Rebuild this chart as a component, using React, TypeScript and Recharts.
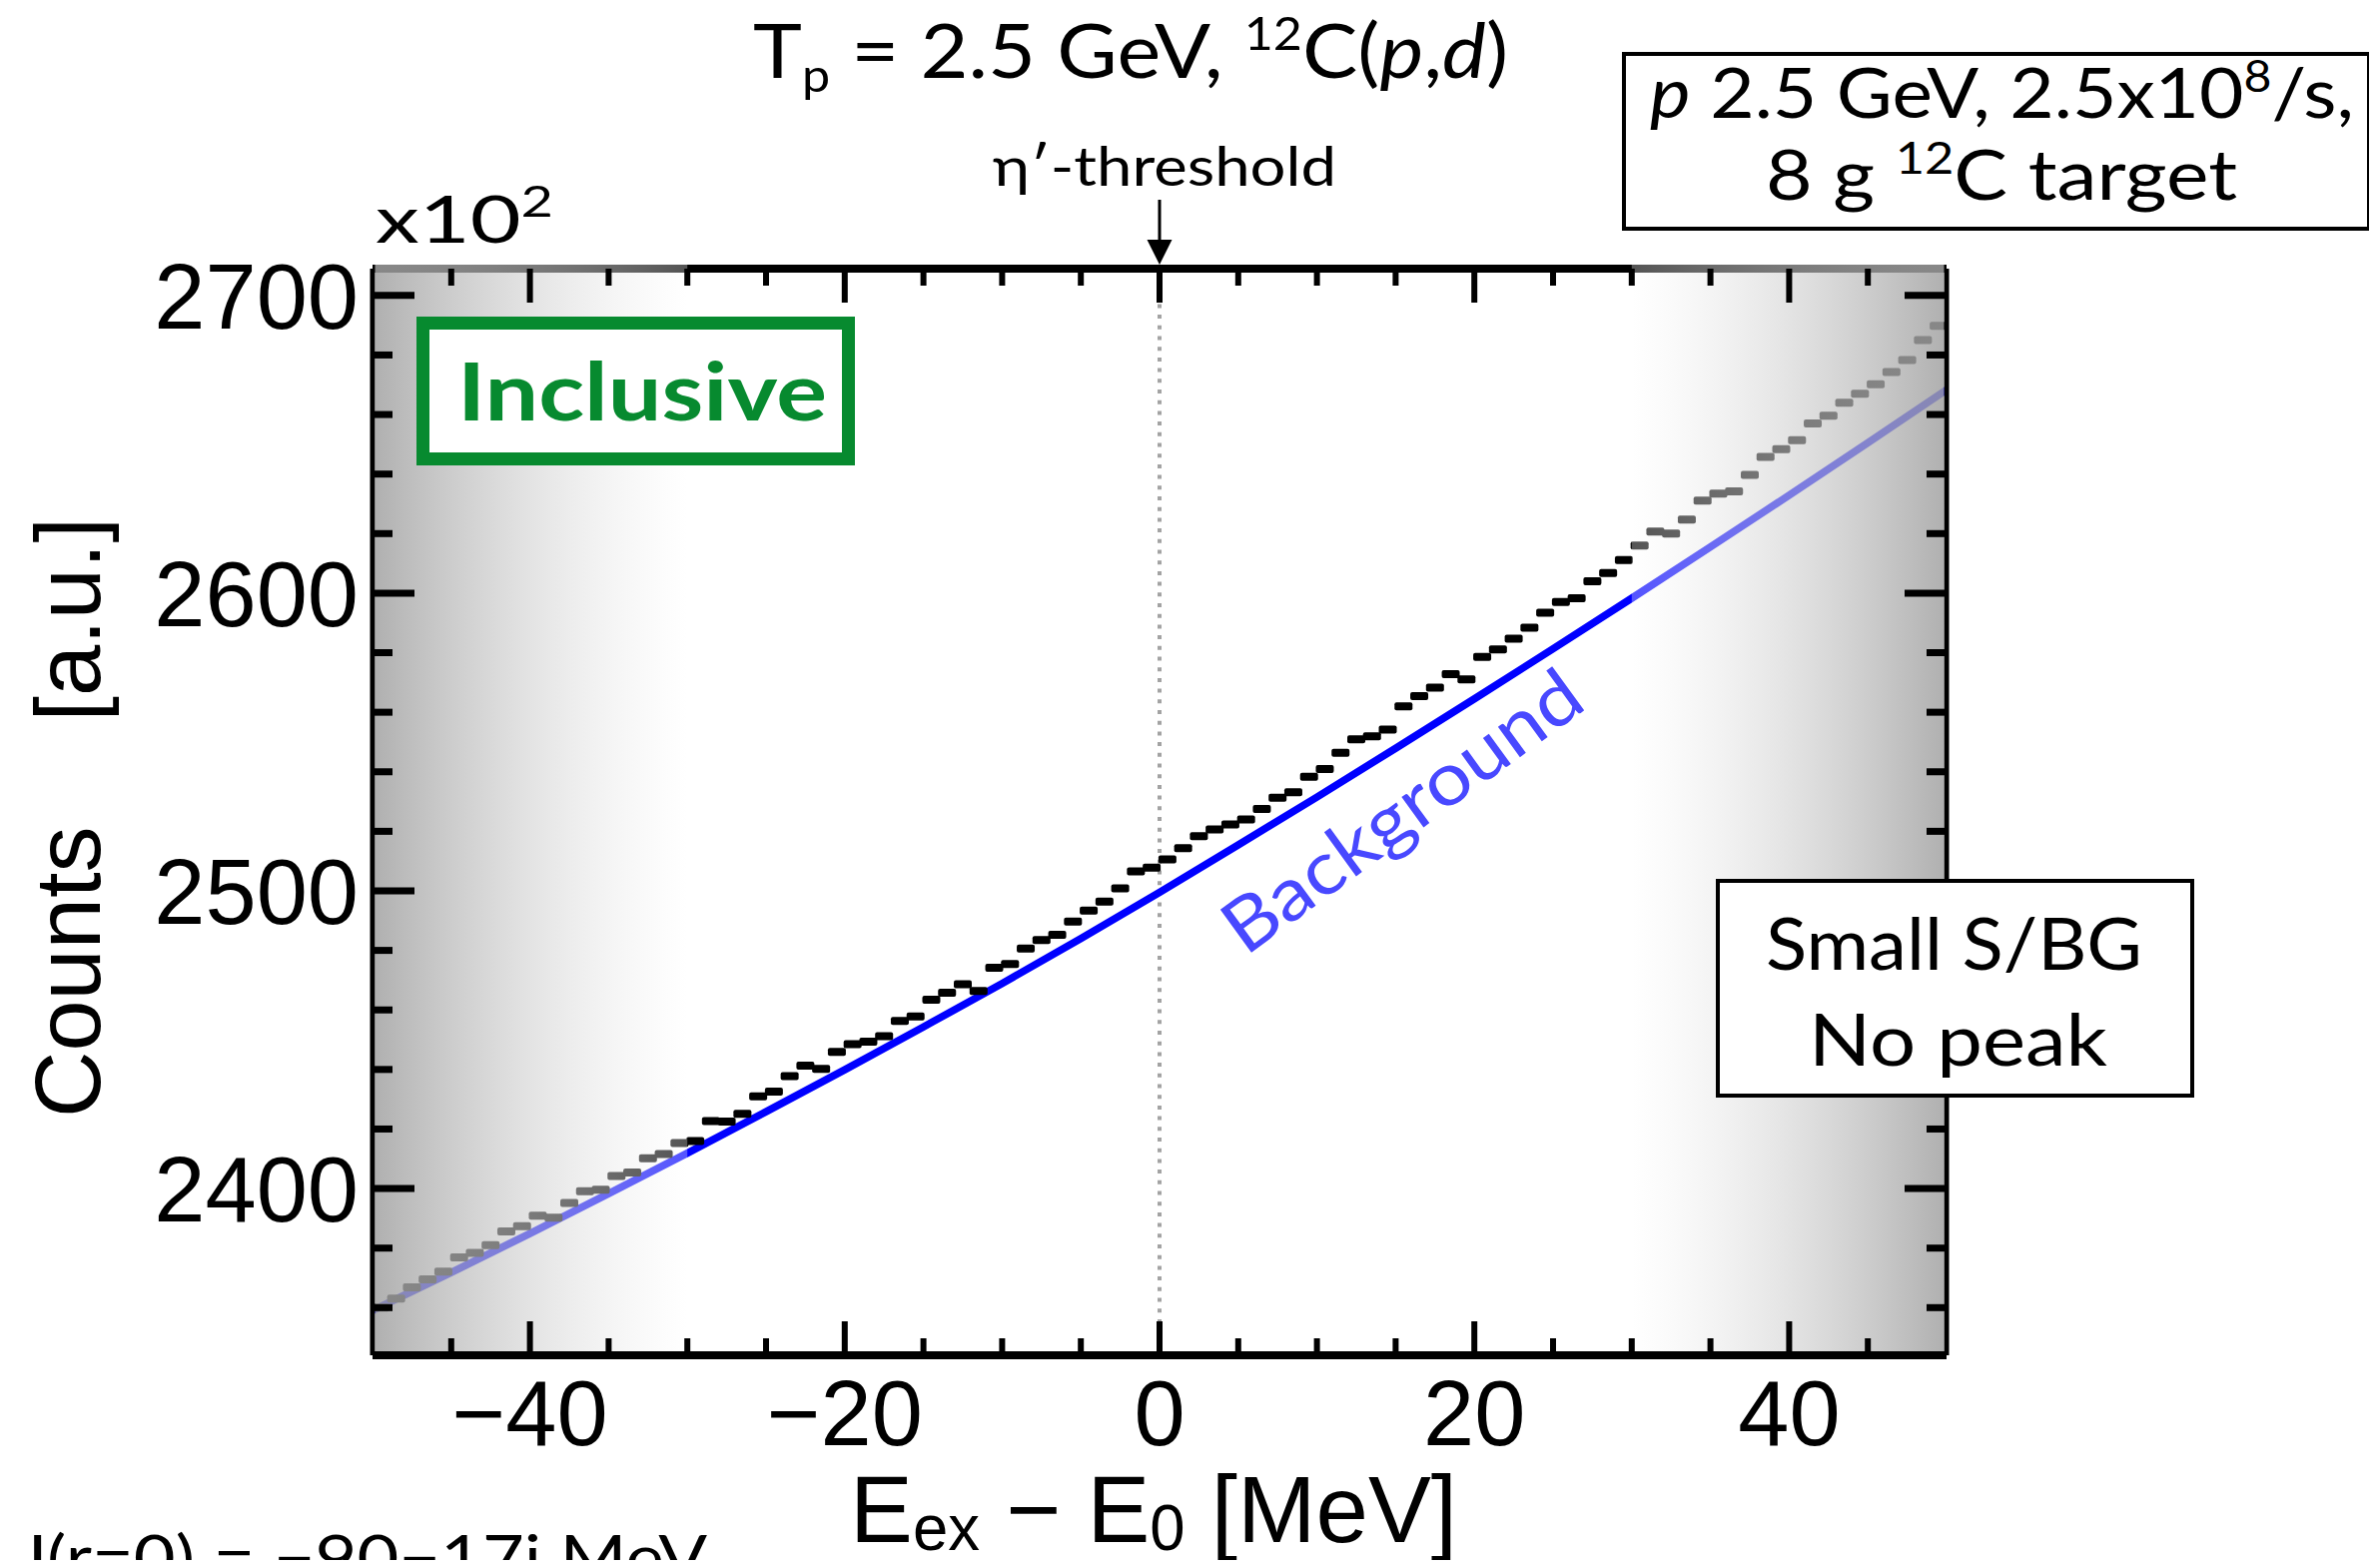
import React from 'react'
import { ComposedChart, Scatter, Line, XAxis, YAxis, ReferenceArea, ReferenceLine } from 'recharts'

// 1 MeV bins, counts in units of 10^2
const energyBins = [
  -49.5, -48.5, -47.5, -46.5, -45.5, -44.5, -43.5, -42.5, -41.5, -40.5,
  -39.5, -38.5, -37.5, -36.5, -35.5, -34.5, -33.5, -32.5, -31.5, -30.5,
  -29.5, -28.5, -27.5, -26.5, -25.5, -24.5, -23.5, -22.5, -21.5, -20.5,
  -19.5, -18.5, -17.5, -16.5, -15.5, -14.5, -13.5, -12.5, -11.5, -10.5,
  -9.5, -8.5, -7.5, -6.5, -5.5, -4.5, -3.5, -2.5, -1.5, -0.5,
  0.5, 1.5, 2.5, 3.5, 4.5, 5.5, 6.5, 7.5, 8.5, 9.5,
  10.5, 11.5, 12.5, 13.5, 14.5, 15.5, 16.5, 17.5, 18.5, 19.5,
  20.5, 21.5, 22.5, 23.5, 24.5, 25.5, 26.5, 27.5, 28.5, 29.5,
  30.5, 31.5, 32.5, 33.5, 34.5, 35.5, 36.5, 37.5, 38.5, 39.5,
  40.5, 41.5, 42.5, 43.5, 44.5, 45.5, 46.5, 47.5, 48.5, 49.5,
]
const counts = [
  2360, 2363, 2366.8, 2369.5, 2372.1, 2376.9, 2378.4, 2381, 2385.6, 2387.4,
  2390.9, 2390.2, 2395.2, 2399.1, 2399.6, 2404.2, 2405.4, 2410.2, 2411.6, 2415.3,
  2416, 2422.7, 2422.5, 2425.1, 2431, 2432.6, 2437.8, 2441.3, 2440.2, 2445.9,
  2448.5, 2449.3, 2451.2, 2456.3, 2457.8, 2463.4, 2465.8, 2468.6, 2466.4, 2474.2,
  2475.4, 2480.6, 2483.5, 2485.2, 2489.7, 2493.4, 2496.4, 2500.8, 2506.5, 2507.8,
  2510.6, 2514.3, 2518.4, 2520.6, 2522.3, 2524, 2527.5, 2531.3, 2533.1, 2538.3,
  2540.9, 2546.4, 2550.9, 2551.9, 2554.2, 2562, 2565.4, 2568.3, 2572.8, 2571,
  2578.6, 2581.1, 2584.7, 2588.4, 2593.4, 2597, 2598.3, 2604, 2606.8, 2611.1,
  2616, 2620.7, 2620, 2624.7, 2631.1, 2633.4, 2634.2, 2639.7, 2645.8, 2648.4,
  2651.4, 2657, 2659.6, 2664, 2667, 2670.2, 2674.3, 2678.3, 2685, 2689.8,
]

// background fit
const bgEnergy = [-50, -45, -40, -35, -30, -25, -20, -15, -10, -5, 0, 5, 10, 15, 20, 25, 30, 35, 40, 45, 50]
const bgCounts = [
  2359, 2371.8, 2384.9, 2398.3, 2411.9, 2425.8, 2439.9, 2454.3, 2468.9, 2484,
  2499.5, 2515.4, 2531.5, 2547.9, 2564.5, 2581.3, 2598.3, 2615.5, 2632.9, 2650.5, 2668.3,
]

const xTicks = [-45, -40, -35, -30, -25, -20, -15, -10, -5, 0, 5, 10, 15, 20, 25, 30, 35, 40, 45]
const xLabels = [-40, -20, 0, 20, 40]
const yTicks = [2360, 2380, 2400, 2420, 2440, 2460, 2480, 2500, 2520, 2540, 2560, 2580, 2600, 2620, 2640, 2660, 2680, 2700]
const yLabels = [2400, 2500, 2600, 2700]
const yDomain = [2344, 2709]

const points = energyBins.map((e, i) => ({ e, n: counts[i] }))
const bgData = bgEnergy.map((e, i) => ({ e, bg: bgCounts[i] }))

const W = 2380
const H = 1570
const PLOT = { left: 373, right: 1949, top: 269, bottom: 1357 }
const Y_AXIS_W = 220
const X_AXIS_H = 100

const AXIS_FONT = "'Liberation Sans', Arial, sans-serif"
const NOTE_FONT = "Lato, 'Noto Sans', sans-serif"

const fmt = (v: number) => (v < 0 ? '\u2212' + Math.abs(v) : String(v))

// bottom ticks with labels, plus the mirrored ticks on the top frame
function XTick(props: any) {
  const { x, payload } = props
  const major = xLabels.includes(payload.value)
  const len = major ? 34 : 17
  return (
    <g>
      <line x1={x} x2={x} y1={PLOT.bottom} y2={PLOT.bottom - len} stroke="#000" strokeWidth={6} />
      <line x1={x} x2={x} y1={PLOT.top} y2={PLOT.top + len} stroke="#000" strokeWidth={6} />
      {major && (
        <text x={x} y={1447} textAnchor="middle" fontFamily={AXIS_FONT} fontSize={92} fill="#000">
          {fmt(payload.value)}
        </text>
      )}
    </g>
  )
}

function LeftTick(props: any) {
  const { y, payload } = props
  const major = yLabels.includes(payload.value)
  return (
    <g>
      <line x1={PLOT.left} x2={PLOT.left + (major ? 42 : 20)} y1={y} y2={y} stroke="#000" strokeWidth={7} />
      {major && (
        <text x={359} y={y + 33} textAnchor="end" fontFamily={AXIS_FONT} fontSize={92} fill="#000">
          {payload.value}
        </text>
      )}
    </g>
  )
}

function RightTick(props: any) {
  const { y, payload } = props
  const major = yLabels.includes(payload.value)
  return <line x1={PLOT.right} x2={PLOT.right - (major ? 42 : 20)} y1={y} y2={y} stroke="#000" strokeWidth={7} />
}

function BinMarker(props: any) {
  const { cx, cy } = props
  return <rect x={cx - 9} y={cy - 4} width={18} height={8} rx={2} fill="#000" />
}

function Notes() {
  return (
    <svg width={W} height={H} style={{ position: 'absolute', left: 0, top: 0, pointerEvents: 'none' }}>
      {/* title */}
      <text x={754} y={78} fontFamily={NOTE_FONT} fontSize={76} fill="#000" textLength={756} lengthAdjust="spacingAndGlyphs">
        T<tspan fontSize={46} dy={14}>p</tspan>
        <tspan dy={-14}> = 2.5 GeV, </tspan>
        <tspan fontSize={46} dy={-28}>12</tspan>
        <tspan dy={28}>C(</tspan>
        <tspan fontStyle="italic">p</tspan>
        <tspan>,</tspan>
        <tspan fontStyle="italic">d</tspan>
        <tspan>)</tspan>
      </text>

      {/* threshold arrow */}
      <text x={994} y={186} fontFamily={NOTE_FONT} fontSize={54} fill="#000" textLength={344} lengthAdjust="spacingAndGlyphs">
        η′-threshold
      </text>
      <line x1={1161} x2={1161} y1={200} y2={245} stroke="#000" strokeWidth={3} />
      <polygon points="1148.5,240 1173.5,240 1161,265" fill="#000" />

      {/* scale factor */}
      <text x={376} y={243} fontFamily={NOTE_FONT} fontSize={66} fill="#000" textLength={178} lengthAdjust="spacingAndGlyphs">
        x10<tspan fontSize={42} dy={-26}>2</tspan>
      </text>

      {/* beam box */}
      <rect x={1626} y={54} width={746} height={175} fill="#fff" stroke="#000" strokeWidth={4} />
      <text x={1652} y={118} fontFamily={NOTE_FONT} fontSize={70} fill="#000" textLength={705} lengthAdjust="spacingAndGlyphs">
        <tspan fontStyle="italic">p</tspan> 2.5 GeV, 2.5x10<tspan fontSize={44} dy={-26}>8</tspan>
        <tspan dy={26}>/s,</tspan>
      </text>
      <text x={1768} y={200} fontFamily={NOTE_FONT} fontSize={70} fill="#000" textLength={472} lengthAdjust="spacingAndGlyphs">
        8 g <tspan fontSize={44} dy={-26}>12</tspan>
        <tspan dy={26}>C target</tspan>
      </text>

      {/* inclusive */}
      <rect x={423.5} y={323.5} width={426} height={136} fill="#fff" stroke="#078a2f" strokeWidth={13} />
      <text x={458} y={421} fontFamily={NOTE_FONT} fontWeight={700} fontSize={80} fill="#078a2f" textLength={370} lengthAdjust="spacingAndGlyphs">
        Inclusive
      </text>

      {/* S/BG box */}
      <rect x={1720} y={882} width={475} height={215} fill="#fff" stroke="#000" strokeWidth={4} />
      <text x={1768} y={971} fontFamily={NOTE_FONT} fontSize={72} fill="#000" textLength={377} lengthAdjust="spacingAndGlyphs">
        Small S/BG
      </text>
      <text x={1811} y={1067} fontFamily={NOTE_FONT} fontSize={72} fill="#000" textLength={299} lengthAdjust="spacingAndGlyphs">
        No peak
      </text>

      {/* background label */}
      <text
        transform="translate(1419,833) rotate(-36)"
        textAnchor="middle"
        fontFamily={NOTE_FONT}
        fontSize={74}
        fill="#4848ff"
        textLength={425}
        lengthAdjust="spacingAndGlyphs"
      >
        Background
      </text>

      {/* axis titles */}
      <text transform="translate(100,1119) rotate(-90)" fontFamily={AXIS_FONT} fontSize={92} fill="#000">
        Counts
      </text>
      <text transform="translate(100,518) rotate(-90)" textAnchor="end" fontFamily={AXIS_FONT} fontSize={92} fill="#000">
        [a.u.]
      </text>
      <text x={851} y={1544} fontFamily={AXIS_FONT} fontSize={95} fill="#000" textLength={608} lengthAdjust="spacingAndGlyphs">
        E<tspan fontSize={64} dy={8}>ex</tspan>
        <tspan dy={-8}> − E</tspan>
        <tspan fontSize={64} dy={8}>0</tspan>
        <tspan dy={-8}> [MeV]</tspan>
      </text>

      {/* note cut by the lower edge, as in the source figure */}
      <text x={-6} y={1582} fontFamily={NOTE_FONT} fontSize={62} fill="#000" textLength={714} lengthAdjust="spacingAndGlyphs">
        U(r=0) = −90−17i MeV
      </text>
    </svg>
  )
}

export default function App() {
  return (
    <div style={{ position: 'relative', width: W, height: H, margin: -8, overflow: 'hidden', background: '#fff' }}>
      <ComposedChart
        width={W}
        height={H}
        margin={{
          top: PLOT.top,
          right: W - PLOT.right - 1,
          bottom: H - PLOT.bottom - X_AXIS_H,
          left: PLOT.left - Y_AXIS_W,
        }}
      >
        <defs>
          <linearGradient id="shadeL" x1="0" y1="0" x2="1" y2="0">
            <stop offset="0" stopColor="rgb(161,161,161)" stopOpacity={0.84} />
            <stop offset="1" stopColor="#ffffff" stopOpacity={0.33} />
          </linearGradient>
          <linearGradient id="shadeR" x1="0" y1="0" x2="1" y2="0">
            <stop offset="0" stopColor="#ffffff" stopOpacity={0.33} />
            <stop offset="1" stopColor="rgb(161,161,161)" stopOpacity={0.84} />
          </linearGradient>
        </defs>

        <XAxis
          xAxisId="b"
          dataKey="e"
          type="number"
          domain={[-50, 50]}
          allowDataOverflow
          ticks={xTicks}
          interval={0}
          tick={XTick}
          tickLine={false}
          axisLine={{ stroke: '#000', strokeWidth: 8 }}
          height={X_AXIS_H}
        />
        <YAxis
          yAxisId="l"
          type="number"
          domain={yDomain}
          allowDataOverflow
          ticks={yTicks}
          interval={0}
          tick={LeftTick}
          tickLine={false}
          axisLine={{ stroke: '#000', strokeWidth: 5 }}
          width={Y_AXIS_W}
        />
        <YAxis
          yAxisId="r"
          orientation="right"
          type="number"
          domain={yDomain}
          allowDataOverflow
          ticks={yTicks}
          interval={0}
          tick={RightTick}
          tickLine={false}
          axisLine={{ stroke: '#000', strokeWidth: 5 }}
          width={1}
        />

        <ReferenceLine xAxisId="b" yAxisId="l" x={0} stroke="#a3a3a3" strokeWidth={4} strokeDasharray="4 6.7" />

        <Scatter xAxisId="b" yAxisId="l" data={points} dataKey="n" fill="#000" shape={BinMarker} isAnimationActive={false} />
        <Line
          xAxisId="b"
          yAxisId="l"
          data={bgData}
          dataKey="bg"
          type="monotone"
          stroke="#0000ff"
          strokeWidth={7.5}
          dot={false}
          activeDot={false}
          isAnimationActive={false}
        />

        {/* top frame */}
        <ReferenceLine xAxisId="b" yAxisId="l" y={yDomain[1]} stroke="#000" strokeWidth={8} ifOverflow="visible" />

        {/* shaded side regions, drawn over the data */}
        <ReferenceArea
          xAxisId="b"
          yAxisId="l"
          x1={-49.84}
          x2={-30}
          y1={2345.3}
          y2={2710.3}
          ifOverflow="visible"
          fill="url(#shadeL)"
          fillOpacity={1}
          stroke="none"
          zIndex={1000}
        />
        <ReferenceArea
          xAxisId="b"
          yAxisId="l"
          x1={30}
          x2={49.84}
          y1={2345.3}
          y2={2710.3}
          ifOverflow="visible"
          fill="url(#shadeR)"
          fillOpacity={1}
          stroke="none"
          zIndex={1000}
        />
      </ComposedChart>
      <Notes />
    </div>
  )
}
